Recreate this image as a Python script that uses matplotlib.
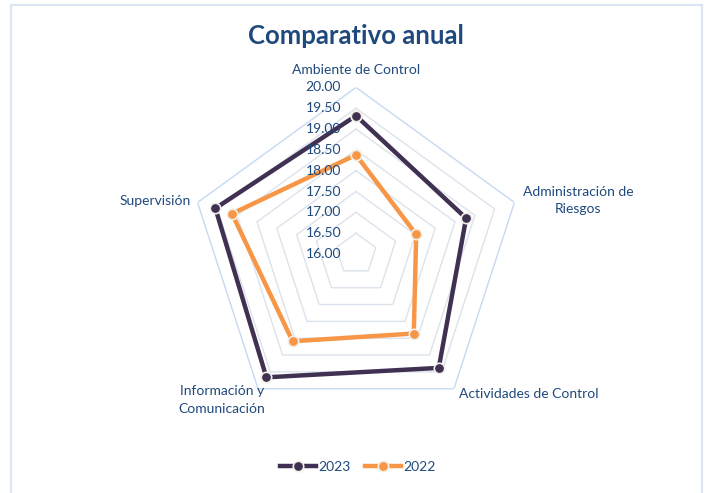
import numpy as np
import matplotlib
matplotlib.use('Agg')
import matplotlib.pyplot as plt
from matplotlib.patches import Rectangle

plt.rcParams['font.family'] = ['Lato', 'DejaVu Sans']

categories = ['Ambiente de Control', 'Administración de\nRiesgos', 'Actividades de Control',
              'Información y\nComunicación', 'Supervisión']
v2023 = [19.32, 18.78, 19.38, 19.66, 19.55]
v2022 = [18.38, 17.52, 18.36, 18.59, 19.13]
ticks = [16.0, 16.5, 17.0, 17.5, 18.0, 18.5, 19.0, 19.5, 20.0]

txt = '#1f497d'
W, H = 710, 493
fig = plt.figure(figsize=(W / 100, H / 100), dpi=100)

# chart frame
fig.patches.append(Rectangle((11 / W, -0.05), 691 / W, 1.05 - 5 / H, transform=fig.transFigure,
                             fill=False, edgecolor='#dce6f2', linewidth=1.5))

cx, cy, r = 356, 254, 166.6
ax = fig.add_axes([(cx - r) / W, (H - cy - r) / H, 2 * r / W, 2 * r / H], projection='polar')
ax.set_theta_offset(np.pi / 2)
ax.set_theta_direction(-1)
ax.set_ylim(16, 20)
ax.grid(False)
ax.spines['polar'].set_visible(False)
ax.set_xticks([])
ax.set_yticks([])
ax.patch.set_alpha(0)

n = len(categories)
ang = np.linspace(0, 2 * np.pi, n, endpoint=False)
ang_c = np.append(ang, ang[0])

# pentagon grid
for t in ticks[1:]:
    col = '#c6d9f1' if t == 20.0 else '#dce3ec'
    ax.plot(ang_c, [t] * (n + 1), color=col, lw=1.0, zorder=1)

for vals, col, lab in [(v2023, '#403152', '2023'), (v2022, '#f79646', '2022')]:
    ax.plot(ang_c, vals + vals[:1], color=col, lw=3.2, marker='o', ms=7.5,
            mfc=col, mec='#f2efe9', mew=1.2, label=lab, zorder=3, clip_on=False)

for t in ticks:
    ax.annotate(f'{t:.2f}', xy=(0, t), xytext=(-15, 0), textcoords='offset pixels',
                ha='right', va='center', fontsize=10, color=txt, zorder=4)

offsets = [(0, 17, 'center'), (64, 2, 'center'), (75, -5, 'center'), (-36, -11, 'center'), (-7, 2, 'right')]
for a, lab, (dx, dy, ha) in zip(ang, categories, offsets):
    ax.annotate(lab, xy=(a, 20), xytext=(dx, dy), textcoords='offset pixels',
                ha=ha, va='center', fontsize=10, color=txt, linespacing=1.55,
                annotation_clip=False)

fig.text(cx / W, 1 - 36 / H, 'Comparativo anual', ha='center', va='center',
         fontsize=18.5, fontweight='bold', color=txt)

fig.legend(loc='center', bbox_to_anchor=(358 / W, 1 - 467 / H), ncol=2, frameon=False,
           fontsize=10, labelcolor=txt, handlelength=2.6, columnspacing=1.0, handletextpad=0.2)

fig.savefig('out.png', dpi=100)
